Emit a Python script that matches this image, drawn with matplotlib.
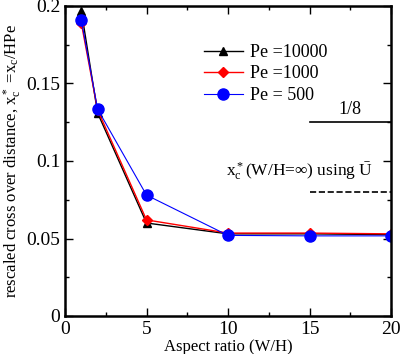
import matplotlib.pyplot as plt
from matplotlib.ticker import MultipleLocator, FuncFormatter

plt.rcParams['font.family'] = ['Liberation Serif', 'DejaVu Serif']
plt.rcParams['mathtext.fontset'] = 'custom'
plt.rcParams['mathtext.rm'] = 'Liberation Serif'
plt.rcParams['mathtext.it'] = 'Liberation Serif'

aspect = [1, 2, 5, 10, 15, 20]
pe10000 = [0.197, 0.131, 0.060, 0.053, 0.053, 0.0525]
pe1000 = [0.189, 0.133, 0.062, 0.0535, 0.0535, 0.053]
pe500 = [0.191, 0.1335, 0.078, 0.052, 0.0517, 0.0517]

ref_x = [15, 20]
one_eighth = 0.125
xc_inf = 0.08

fig = plt.figure(figsize=(4.01, 3.54), dpi=100)
ax = fig.add_axes([65 / 401, 38 / 354, 326 / 401, 310 / 354])

ax.plot(aspect, pe10000, color='black', marker='^', markersize=6, lw=1, label='Pe =10000')
ax.plot(aspect, pe1000, color='red', marker='D', markersize=5, lw=1, label='Pe =1000')
ax.plot(aspect, pe500, color='blue', marker='o', markersize=8, lw=0.8, label='Pe = 500')

ax.plot(ref_x, [one_eighth, one_eighth], color='black', lw=1.2)
ax.text(17.5, 0.128, '1/8', ha='center', va='bottom', fontsize=13)
ax.plot(ref_x, [xc_inf, xc_inf], color='black', lw=1.2, ls='--')
ax.text(9.9, 0.0865, r'$\mathrm{x}_c^*$(W/H=$\infty$) using $\bar{\mathrm{U}}$', ha='left', va='bottom', fontsize=12.5)

ax.set_xlim(0, 20)
ax.set_ylim(0, 0.2)
ax.xaxis.set_major_locator(MultipleLocator(5))
ax.xaxis.set_minor_locator(MultipleLocator(2.5))
ax.yaxis.set_major_locator(MultipleLocator(0.05))
ax.yaxis.set_minor_locator(MultipleLocator(0.025))
ax.yaxis.set_major_formatter(FuncFormatter(lambda v, p: '0' if abs(v) < 1e-9 else f'{v:g}'))
ax.tick_params(which='both', direction='in', top=True, right=True, labelsize=14, width=1)
ax.tick_params(which='major', length=6)
ax.tick_params(which='minor', length=3)
for s in ax.spines.values():
    s.set_linewidth(1.8)

ax.set_xlabel('Aspect ratio (W/H)', fontsize=12, labelpad=1)
ax.set_ylabel(r'rescaled cross over distance, $\mathrm{x}_c^*$ =$\mathrm{x}_c$/HPe', fontsize=12, labelpad=2)

ax.legend(loc='upper left', bbox_to_anchor=(0.375, 0.93), frameon=False, fontsize=13,
          handlelength=2.2, handletextpad=0.4, labelspacing=0.25)

plt.savefig('out.png', dpi=100)
